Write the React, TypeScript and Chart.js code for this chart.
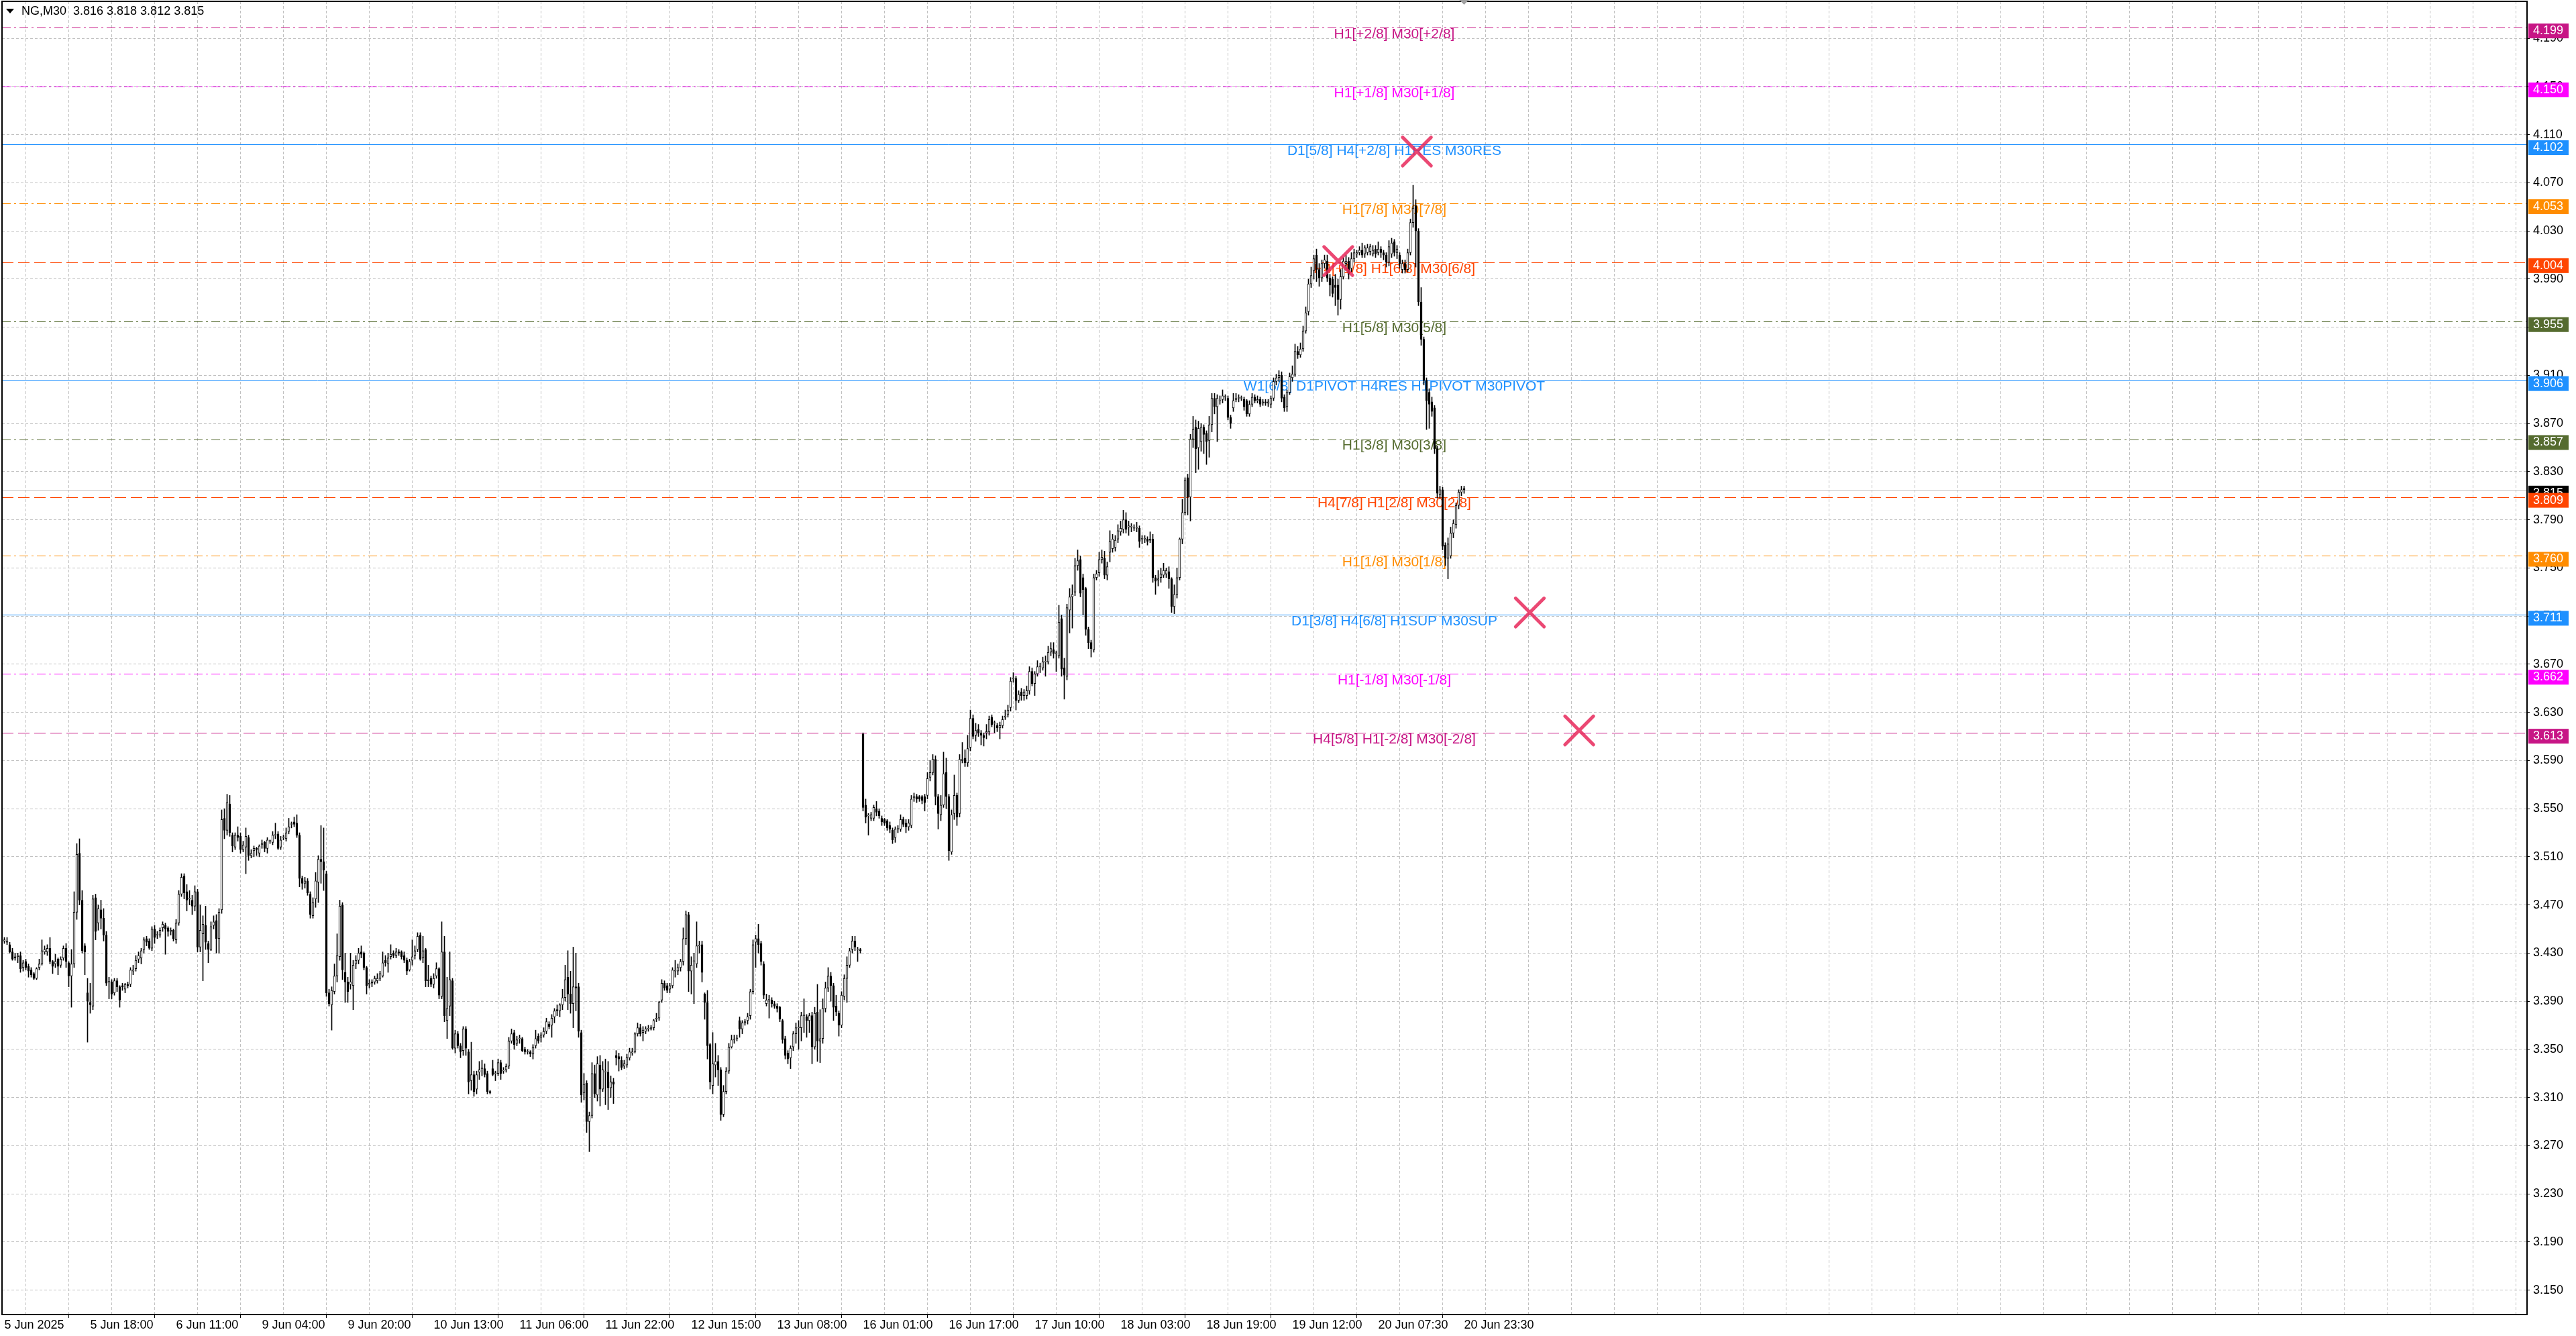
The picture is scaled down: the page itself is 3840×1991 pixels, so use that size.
import React, { useEffect, useRef } from 'react';
import { Chart, registerables } from 'chart.js';

Chart.register(...registerables);

// NG, M30 candles. Bar 0 is 5 Jun 2025 02:00, one bar per 30 minutes.
// Prices are in thousandths (3440 -> 3.440).
const OPEN = [
  3440, 3439, 3437, 3431, 3427, 3427, 3428, 3418, 3423, 3419, 3416, 3413, 3409, 3418, 3421, 3431,
  3431, 3434, 3423, 3421, 3425, 3420, 3426, 3434, 3422, 3411, 3421, 3464, 3513, 3474, 3436, 3397,
  3389, 3386, 3476, 3455, 3466, 3459, 3445, 3406, 3406, 3397, 3407, 3402, 3403, 3400, 3404, 3404,
  3415, 3417, 3425, 3426, 3433, 3442, 3440, 3434, 3450, 3445, 3445, 3451, 3453, 3451, 3448, 3449,
  3441, 3455, 3479, 3494, 3481, 3475, 3474, 3469, 3481, 3435, 3446, 3453, 3438, 3433, 3453, 3457,
  3442, 3466, 3542, 3532, 3554, 3528, 3518, 3528, 3527, 3516, 3518, 3526, 3511, 3515, 3517, 3513,
  3520, 3522, 3517, 3523, 3522, 3528, 3529, 3518, 3526, 3525, 3531, 3537, 3539, 3538, 3528, 3492,
  3488, 3490, 3479, 3461, 3475, 3489, 3508, 3506, 3496, 3397, 3387, 3398, 3411, 3427, 3470, 3414,
  3406, 3404, 3403, 3421, 3424, 3431, 3430, 3418, 3404, 3406, 3406, 3407, 3409, 3411, 3424, 3421,
  3427, 3430, 3428, 3431, 3431, 3428, 3424, 3416, 3424, 3428, 3433, 3445, 3426, 3433, 3407, 3409,
  3404, 3411, 3417, 3394, 3431, 3374, 3386, 3407, 3351, 3363, 3353, 3349, 3367, 3348, 3324, 3329,
  3317, 3331, 3334, 3334, 3330, 3315, 3334, 3330, 3330, 3339, 3332, 3333, 3336, 3357, 3364, 3355,
  3359, 3359, 3350, 3348, 3348, 3346, 3353, 3361, 3360, 3362, 3365, 3371, 3370, 3377, 3383, 3382,
  3387, 3393, 3410, 3396, 3388, 3402, 3402, 3364, 3314, 3322, 3290, 3295, 3330, 3312, 3337, 3317,
  3331, 3331, 3318, 3323, 3345, 3344, 3341, 3336, 3337, 3343, 3347, 3348, 3363, 3368, 3364, 3365,
  3367, 3367, 3368, 3375, 3376, 3391, 3405, 3403, 3400, 3403, 3415, 3415, 3418, 3423, 3442, 3462,
  3415, 3423, 3421, 3436, 3437, 3396, 3389, 3354, 3320, 3337, 3340, 3333, 3296, 3315, 3332, 3352,
  3358, 3359, 3374, 3367, 3372, 3374, 3378, 3398, 3439, 3442, 3438, 3421, 3388, 3391, 3391, 3388,
  3386, 3385, 3374, 3359, 3347, 3343, 3352, 3363, 3368, 3368, 3378, 3377, 3374, 3378, 3352, 3381,
  3357, 3359, 3384, 3401, 3411, 3403, 3386, 3380, 3370, 3394, 3409, 3420, 3433, 3440, 3433, 3433,
  3612, 3553, 3544, 3542, 3542, 3550, 3548, 3542, 3541, 3540, 3536, 3532, 3526, 3533, 3533, 3541,
  3538, 3535, 3536, 3559, 3560, 3560, 3560, 3560, 3561, 3576, 3580, 3591, 3560, 3545, 3553, 3580,
  3560, 3514, 3546, 3561, 3546, 3590, 3592, 3588, 3601, 3625, 3611, 3616, 3613, 3611, 3613, 3614,
  3626, 3621, 3619, 3617, 3619, 3626, 3628, 3634, 3658, 3658, 3640, 3647, 3644, 3644, 3648, 3664,
  3654, 3662, 3668, 3667, 3672, 3672, 3680, 3682, 3679, 3677, 3708, 3667, 3660, 3715, 3726, 3730,
  3752, 3757, 3742, 3733, 3699, 3688, 3682, 3742, 3746, 3757, 3758, 3744, 3763, 3766, 3767, 3774,
  3780, 3782, 3790, 3784, 3784, 3783, 3783, 3783, 3774, 3774, 3774, 3773, 3774, 3742, 3740, 3742,
  3744, 3745, 3747, 3741, 3718, 3728, 3742, 3774, 3796, 3825, 3809, 3857, 3867, 3850, 3855, 3867,
  3862, 3856, 3869, 3891, 3884, 3889, 3890, 3892, 3891, 3875, 3883, 3890, 3891, 3891, 3890, 3889,
  3878, 3886, 3892, 3889, 3890, 3887, 3888, 3887, 3886, 3891, 3905, 3908, 3910, 3892, 3884, 3896,
  3908, 3911, 3930, 3927, 3932, 3947, 3963, 3986, 3997, 4010, 3998, 3991, 4003, 4005, 3991, 3990,
  3985, 3985, 3973, 3992, 4003, 4005, 3999, 4007, 4011, 4012, 4014, 4011, 4012, 4013, 4011, 4015,
  4012, 4015, 4012, 4010, 4004, 4011, 4021, 4012, 4010, 3998, 4003, 3998, 4012, 4037, 4051, 4030,
  3971, 3940, 3906, 3896, 3888, 3883, 3849, 3811, 3815, 3769, 3758, 3760, 3779, 3786, 3802, 3813,
  3816,
];

const HIGH = [
  3443, 3443, 3439, 3434, 3430, 3430, 3431, 3424, 3425, 3421, 3418, 3414, 3418, 3425, 3441, 3436,
  3437, 3443, 3424, 3429, 3426, 3427, 3436, 3438, 3423, 3433, 3481, 3521, 3525, 3482, 3438, 3409,
  3405, 3478, 3479, 3470, 3474, 3467, 3448, 3410, 3408, 3409, 3409, 3403, 3405, 3405, 3406, 3418,
  3420, 3428, 3431, 3434, 3443, 3444, 3442, 3452, 3453, 3448, 3451, 3456, 3455, 3452, 3451, 3450,
  3458, 3482, 3496, 3496, 3487, 3482, 3478, 3486, 3483, 3470, 3461, 3469, 3440, 3456, 3461, 3462,
  3467, 3549, 3550, 3562, 3561, 3530, 3530, 3535, 3530, 3523, 3534, 3528, 3516, 3519, 3518, 3520,
  3524, 3523, 3526, 3524, 3531, 3538, 3531, 3527, 3528, 3534, 3542, 3539, 3543, 3545, 3530, 3494,
  3493, 3492, 3481, 3476, 3497, 3511, 3536, 3534, 3498, 3400, 3402, 3421, 3446, 3474, 3472, 3430,
  3410, 3430, 3424, 3428, 3434, 3436, 3431, 3419, 3408, 3408, 3411, 3413, 3415, 3431, 3428, 3430,
  3437, 3432, 3434, 3433, 3432, 3431, 3426, 3425, 3441, 3436, 3447, 3447, 3444, 3434, 3420, 3411,
  3413, 3422, 3418, 3456, 3444, 3410, 3431, 3409, 3366, 3365, 3355, 3369, 3369, 3350, 3356, 3332,
  3332, 3340, 3341, 3338, 3332, 3316, 3341, 3332, 3342, 3341, 3335, 3338, 3360, 3367, 3366, 3361,
  3362, 3360, 3352, 3350, 3349, 3354, 3366, 3363, 3364, 3368, 3376, 3373, 3379, 3384, 3387, 3388,
  3400, 3420, 3432, 3415, 3435, 3430, 3405, 3366, 3330, 3324, 3298, 3339, 3337, 3344, 3345, 3340,
  3342, 3340, 3328, 3326, 3349, 3347, 3344, 3341, 3346, 3351, 3351, 3364, 3372, 3371, 3369, 3369,
  3370, 3370, 3375, 3380, 3390, 3408, 3407, 3405, 3405, 3418, 3424, 3421, 3425, 3451, 3465, 3464,
  3427, 3430, 3456, 3440, 3440, 3397, 3399, 3355, 3364, 3355, 3345, 3335, 3320, 3335, 3355, 3362,
  3362, 3362, 3377, 3374, 3375, 3380, 3400, 3441, 3445, 3454, 3440, 3423, 3396, 3395, 3393, 3390,
  3388, 3386, 3375, 3361, 3349, 3353, 3365, 3372, 3374, 3381, 3392, 3379, 3380, 3381, 3385, 3404,
  3383, 3392, 3406, 3418, 3414, 3405, 3395, 3382, 3398, 3412, 3427, 3434, 3444, 3444, 3435, 3434,
  3613, 3558, 3546, 3547, 3553, 3556, 3550, 3544, 3542, 3541, 3539, 3534, 3535, 3536, 3545, 3543,
  3541, 3541, 3561, 3563, 3562, 3561, 3561, 3562, 3580, 3590, 3595, 3594, 3562, 3561, 3597, 3592,
  3562, 3549, 3578, 3563, 3595, 3605, 3599, 3611, 3632, 3628, 3621, 3620, 3615, 3613, 3620, 3627,
  3628, 3623, 3621, 3622, 3627, 3632, 3636, 3659, 3663, 3660, 3648, 3650, 3649, 3652, 3668, 3667,
  3664, 3673, 3671, 3676, 3677, 3685, 3688, 3688, 3681, 3719, 3711, 3675, 3720, 3733, 3736, 3758,
  3765, 3760, 3745, 3734, 3701, 3690, 3745, 3748, 3763, 3765, 3764, 3755, 3781, 3778, 3777, 3786,
  3789, 3798, 3796, 3789, 3787, 3786, 3788, 3785, 3777, 3777, 3776, 3780, 3778, 3744, 3748, 3750,
  3754, 3750, 3751, 3742, 3736, 3750, 3775, 3807, 3825, 3828, 3861, 3876, 3873, 3872, 3870, 3869,
  3864, 3876, 3895, 3895, 3894, 3893, 3898, 3894, 3893, 3877, 3895, 3895, 3894, 3893, 3892, 3890,
  3889, 3895, 3894, 3893, 3892, 3890, 3890, 3890, 3893, 3908, 3911, 3914, 3913, 3894, 3898, 3912,
  3918, 3936, 3934, 3937, 3951, 3967, 3990, 4000, 4010, 4015, 4003, 4006, 4010, 4010, 3994, 3992,
  3994, 3990, 3998, 4008, 4010, 4008, 4012, 4015, 4014, 4017, 4020, 4018, 4019, 4019, 4018, 4018,
  4021, 4017, 4014, 4012, 4022, 4024, 4023, 4018, 4012, 4006, 4006, 4015, 4040, 4068, 4056, 4032,
  3983, 3942, 3908, 3899, 3892, 3885, 3851, 3818, 3817, 3771, 3775, 3784, 3790, 3804, 3815, 3818,
  3818,
];

const LOW = [
  3438, 3437, 3430, 3424, 3424, 3422, 3414, 3415, 3416, 3410, 3410, 3408, 3408, 3416, 3420, 3429,
  3428, 3421, 3413, 3418, 3412, 3418, 3424, 3418, 3402, 3385, 3418, 3458, 3470, 3430, 3412, 3356,
  3380, 3383, 3441, 3449, 3450, 3440, 3403, 3392, 3392, 3395, 3398, 3385, 3399, 3397, 3401, 3402,
  3412, 3415, 3422, 3421, 3430, 3436, 3433, 3432, 3438, 3442, 3443, 3448, 3429, 3444, 3445, 3440,
  3438, 3453, 3477, 3475, 3465, 3470, 3462, 3465, 3431, 3431, 3407, 3433, 3422, 3432, 3450, 3430,
  3430, 3463, 3525, 3528, 3527, 3514, 3516, 3523, 3513, 3514, 3496, 3507, 3509, 3510, 3511, 3510,
  3517, 3514, 3513, 3521, 3520, 3525, 3516, 3516, 3524, 3523, 3529, 3534, 3535, 3526, 3485, 3483,
  3484, 3478, 3459, 3459, 3468, 3472, 3488, 3482, 3394, 3386, 3366, 3396, 3406, 3424, 3408, 3389,
  3389, 3400, 3383, 3417, 3421, 3426, 3416, 3396, 3401, 3402, 3404, 3405, 3407, 3410, 3419, 3414,
  3425, 3426, 3426, 3428, 3425, 3422, 3412, 3415, 3420, 3425, 3431, 3424, 3422, 3402, 3402, 3402,
  3401, 3409, 3392, 3392, 3373, 3359, 3378, 3350, 3347, 3351, 3343, 3345, 3345, 3313, 3316, 3311,
  3313, 3325, 3328, 3327, 3313, 3313, 3328, 3324, 3328, 3325, 3330, 3331, 3334, 3355, 3350, 3353,
  3355, 3348, 3346, 3346, 3344, 3342, 3351, 3355, 3356, 3360, 3363, 3367, 3360, 3372, 3378, 3377,
  3383, 3390, 3383, 3380, 3368, 3382, 3360, 3306, 3308, 3281, 3265, 3293, 3310, 3307, 3303, 3315,
  3304, 3300, 3310, 3305, 3337, 3332, 3333, 3334, 3335, 3341, 3345, 3347, 3361, 3361, 3357, 3363,
  3365, 3366, 3366, 3373, 3374, 3389, 3399, 3397, 3397, 3401, 3410, 3412, 3415, 3420, 3437, 3398,
  3396, 3388, 3418, 3430, 3406, 3375, 3342, 3317, 3313, 3327, 3320, 3291, 3294, 3313, 3330, 3351,
  3355, 3357, 3360, 3363, 3370, 3371, 3375, 3396, 3418, 3430, 3420, 3392, 3386, 3376, 3385, 3384,
  3381, 3373, 3355, 3342, 3338, 3334, 3349, 3355, 3350, 3357, 3364, 3360, 3364, 3338, 3350, 3340,
  3339, 3355, 3381, 3398, 3390, 3374, 3378, 3361, 3368, 3391, 3389, 3418, 3430, 3432, 3423, 3430,
  3548, 3538, 3528, 3540, 3540, 3544, 3542, 3536, 3536, 3532, 3530, 3521, 3522, 3530, 3531, 3535,
  3530, 3532, 3534, 3556, 3555, 3556, 3554, 3548, 3558, 3573, 3578, 3553, 3533, 3540, 3551, 3550,
  3507, 3512, 3541, 3536, 3543, 3588, 3585, 3585, 3598, 3608, 3606, 3610, 3603, 3602, 3608, 3611,
  3618, 3613, 3614, 3608, 3617, 3624, 3626, 3631, 3655, 3632, 3638, 3640, 3640, 3641, 3645, 3652,
  3644, 3660, 3663, 3665, 3660, 3670, 3677, 3675, 3664, 3675, 3660, 3641, 3657, 3696, 3700, 3727,
  3748, 3726, 3711, 3694, 3683, 3676, 3680, 3740, 3743, 3754, 3741, 3740, 3755, 3763, 3764, 3771,
  3777, 3779, 3779, 3777, 3780, 3781, 3780, 3767, 3770, 3771, 3769, 3771, 3738, 3728, 3735, 3738,
  3742, 3742, 3733, 3713, 3712, 3725, 3740, 3770, 3794, 3794, 3789, 3850, 3829, 3832, 3847, 3845,
  3836, 3842, 3863, 3878, 3855, 3886, 3887, 3889, 3873, 3866, 3880, 3888, 3888, 3889, 3881, 3876,
  3876, 3884, 3887, 3887, 3884, 3885, 3885, 3884, 3883, 3889, 3902, 3905, 3888, 3880, 3880, 3894,
  3905, 3909, 3924, 3925, 3930, 3945, 3960, 3983, 3990, 3988, 3984, 3988, 3999, 3988, 3976, 3975,
  3968, 3960, 3965, 3990, 3997, 3990, 3996, 4004, 4008, 4010, 4008, 4008, 4010, 4010, 4009, 4008,
  4010, 4008, 4006, 4000, 4001, 4008, 4009, 4007, 3999, 3995, 3995, 3996, 4010, 4033, 4000, 3968,
  3935, 3902, 3865, 3866, 3876, 3845, 3808, 3808, 3765, 3752, 3741, 3758, 3775, 3783, 3799, 3810,
  3812,
];

const CLOSE = [
  3441, 3440, 3431, 3425, 3426, 3428, 3417, 3422, 3418, 3415, 3412, 3409, 3417, 3421, 3432, 3433,
  3434, 3423, 3419, 3423, 3419, 3425, 3434, 3423, 3411, 3421, 3464, 3512, 3474, 3432, 3431, 3390,
  3387, 3475, 3448, 3467, 3459, 3445, 3405, 3406, 3396, 3407, 3402, 3391, 3402, 3404, 3403, 3416,
  3416, 3424, 3428, 3432, 3441, 3439, 3434, 3450, 3443, 3445, 3449, 3454, 3450, 3448, 3449, 3442,
  3455, 3479, 3493, 3480, 3474, 3475, 3469, 3481, 3435, 3449, 3454, 3439, 3433, 3452, 3456, 3442,
  3464, 3541, 3532, 3555, 3530, 3519, 3528, 3526, 3516, 3520, 3527, 3511, 3513, 3517, 3516, 3519,
  3521, 3517, 3524, 3523, 3528, 3528, 3517, 3524, 3526, 3530, 3535, 3537, 3537, 3528, 3492, 3488,
  3490, 3480, 3462, 3472, 3490, 3508, 3506, 3499, 3397, 3388, 3399, 3411, 3428, 3469, 3416, 3406,
  3398, 3406, 3420, 3424, 3430, 3429, 3418, 3403, 3405, 3405, 3409, 3409, 3413, 3422, 3422, 3426,
  3429, 3428, 3431, 3430, 3427, 3424, 3415, 3423, 3427, 3432, 3444, 3425, 3432, 3407, 3408, 3404,
  3409, 3417, 3395, 3431, 3378, 3384, 3408, 3351, 3363, 3353, 3348, 3367, 3351, 3323, 3329, 3315,
  3329, 3333, 3334, 3329, 3315, 3314, 3329, 3330, 3339, 3330, 3332, 3336, 3357, 3363, 3354, 3358,
  3359, 3349, 3348, 3348, 3346, 3352, 3359, 3357, 3362, 3365, 3373, 3369, 3376, 3382, 3382, 3387,
  3393, 3408, 3396, 3388, 3402, 3401, 3365, 3312, 3321, 3290, 3295, 3330, 3313, 3338, 3317, 3333,
  3331, 3318, 3323, 3321, 3343, 3342, 3335, 3338, 3343, 3348, 3348, 3363, 3368, 3363, 3366, 3367,
  3367, 3368, 3374, 3376, 3389, 3405, 3401, 3399, 3403, 3416, 3415, 3418, 3423, 3442, 3462, 3415,
  3420, 3423, 3436, 3436, 3414, 3389, 3353, 3323, 3338, 3340, 3333, 3296, 3315, 3332, 3352, 3358,
  3358, 3359, 3367, 3372, 3373, 3377, 3398, 3437, 3442, 3437, 3423, 3395, 3391, 3391, 3388, 3386,
  3384, 3375, 3358, 3345, 3342, 3351, 3363, 3368, 3368, 3378, 3378, 3374, 3378, 3352, 3380, 3357,
  3359, 3384, 3401, 3411, 3403, 3385, 3381, 3370, 3395, 3409, 3420, 3432, 3440, 3435, 3433, 3432,
  3551, 3543, 3544, 3545, 3551, 3547, 3544, 3539, 3538, 3534, 3533, 3524, 3533, 3533, 3541, 3537,
  3535, 3538, 3558, 3560, 3558, 3558, 3557, 3555, 3575, 3580, 3591, 3560, 3546, 3553, 3579, 3560,
  3515, 3545, 3561, 3543, 3591, 3591, 3588, 3600, 3625, 3610, 3615, 3613, 3611, 3609, 3614, 3624,
  3620, 3621, 3617, 3619, 3624, 3627, 3632, 3656, 3658, 3640, 3645, 3644, 3647, 3648, 3664, 3654,
  3662, 3668, 3668, 3672, 3672, 3680, 3683, 3679, 3679, 3705, 3666, 3661, 3717, 3726, 3728, 3752,
  3756, 3729, 3732, 3699, 3688, 3683, 3742, 3745, 3757, 3759, 3744, 3751, 3772, 3774, 3773, 3781,
  3783, 3790, 3782, 3785, 3784, 3783, 3783, 3772, 3774, 3774, 3772, 3774, 3742, 3739, 3741, 3745,
  3748, 3748, 3741, 3718, 3728, 3742, 3774, 3796, 3823, 3809, 3857, 3865, 3849, 3866, 3867, 3861,
  3855, 3869, 3891, 3884, 3891, 3889, 3893, 3892, 3875, 3870, 3889, 3891, 3891, 3891, 3884, 3878,
  3886, 3892, 3889, 3890, 3886, 3888, 3887, 3888, 3891, 3905, 3908, 3910, 3891, 3883, 3896, 3909,
  3911, 3930, 3927, 3932, 3947, 3962, 3986, 3993, 4007, 3998, 3991, 4003, 4006, 3991, 3985, 3978,
  3983, 3973, 3992, 4005, 4005, 3994, 4007, 4012, 4012, 4014, 4010, 4016, 4016, 4017, 4014, 4011,
  4015, 4012, 4010, 4004, 4017, 4020, 4012, 4015, 4003, 4003, 3998, 4012, 4037, 4049, 4030, 3971,
  3940, 3906, 3889, 3886, 3880, 3849, 3812, 3815, 3768, 3758, 3770, 3779, 3787, 3802, 3813, 3815,
  3815,
];

// time axis: one label every 32 bars, dotted grid every 16 bars
const TIME_LABELS = [
  '5 Jun 2025', '5 Jun 18:00', '6 Jun 11:00', '9 Jun 04:00', '9 Jun 20:00', '10 Jun 13:00',
  '11 Jun 06:00', '11 Jun 22:00', '12 Jun 15:00', '13 Jun 08:00', '16 Jun 01:00', '16 Jun 17:00',
  '17 Jun 10:00', '18 Jun 03:00', '18 Jun 19:00', '19 Jun 12:00', '20 Jun 07:30', '20 Jun 23:30',
];
const LABEL_EVERY = 32;
const GRID_EVERY = 16;

const PRICE_TICKS = [
  3.15, 3.19, 3.23, 3.27, 3.31, 3.35, 3.39, 3.43, 3.47, 3.51, 3.55, 3.59, 3.63, 3.67,
  3.71, 3.75, 3.79, 3.83, 3.87, 3.91, 3.95, 3.99, 4.03, 4.07, 4.11, 4.15, 4.19,
];

// Murrey-math style levels drawn by the indicator
const LEVEL_PRICES = [4.199, 4.15, 4.102, 4.053, 4.004, 3.955, 3.906, 3.857, 3.809, 3.76, 3.711, 3.662, 3.613];
const LEVEL_NAMES = [
  'H1[+2/8] M30[+2/8]',
  'H1[+1/8] M30[+1/8]',
  'D1[5/8] H4[+2/8] H1RES M30RES',
  'H1[7/8] M30[7/8]',
  'H4[+1/8] H1[6/8] M30[6/8]',
  'H1[5/8] M30[5/8]',
  'W1[6/8] D1PIVOT H4RES H1PIVOT M30PIVOT',
  'H1[3/8] M30[3/8]',
  'H4[7/8] H1[2/8] M30[2/8]',
  'H1[1/8] M30[1/8]',
  'D1[3/8] H4[6/8] H1SUP M30SUP',
  'H1[-1/8] M30[-1/8]',
  'H4[5/8] H1[-2/8] M30[-2/8]',
];

// red crosses placed by the indicator (bar position, price)
const MARKER_BARS = [526.4, 497.1, 568.5, 586.9];
const MARKER_PRICES = [4.096, 4.005, 3.713, 3.615];

const BID = CLOSE[CLOSE.length - 1] / 1000;

// ---- styling ----
const FONT = '"Liberation Sans", Arial, sans-serif';
const GRID = '#c0c0c0';
const VIOLET = '#C71585';
const MAGENTA = '#FF00FF';
const BLUE = '#1E90FF';
const ORANGE = '#FF8C00';
const RED_ORANGE = '#FF4500';
const OLIVE = '#556B2F';
const DASH = [17, 7];
const DASH_DOT = [13, 5, 3, 5];
const SOLID: number[] = [];
const LEVEL_STYLES = [
  { color: VIOLET, dash: DASH_DOT },
  { color: MAGENTA, dash: DASH_DOT },
  { color: BLUE, dash: SOLID },
  { color: ORANGE, dash: DASH_DOT },
  { color: RED_ORANGE, dash: DASH },
  { color: OLIVE, dash: DASH_DOT },
  { color: BLUE, dash: SOLID },
  { color: OLIVE, dash: DASH_DOT },
  { color: RED_ORANGE, dash: DASH },
  { color: ORANGE, dash: DASH_DOT },
  { color: BLUE, dash: SOLID },
  { color: MAGENTA, dash: DASH_DOT },
  { color: VIOLET, dash: DASH },
];
const LEVEL_TEXT_BAR = 518;

const fmt = (v: number) => (v / 1000).toFixed(3);
const last = OPEN.length - 1;
const HEADER = `NG,M30  ${fmt(OPEN[last])} ${fmt(HIGH[last])} ${fmt(LOW[last])} ${fmt(CLOSE[last])}`;

const mt4Overlay = {
  id: 'mt4Overlay',
  beforeDatasetsDraw(chart: any) {
    const { ctx, chartArea: a, scales } = chart;
    const x = scales.x;
    const y = scales.y;
    ctx.save();
    ctx.beginPath();
    ctx.rect(a.left, a.top, a.right - a.left, a.bottom - a.top);
    ctx.clip();

    // bid line
    const by = Math.round(y.getPixelForValue(BID)) + 0.5;
    ctx.strokeStyle = '#c0c0c0';
    ctx.lineWidth = 1;
    ctx.setLineDash([]);
    ctx.beginPath();
    ctx.moveTo(a.left, by);
    ctx.lineTo(a.right, by);
    ctx.stroke();

    LEVEL_PRICES.forEach((p, i) => {
      const st = LEVEL_STYLES[i];
      const py = Math.round(y.getPixelForValue(p)) + 0.5;
      ctx.strokeStyle = st.color;
      ctx.setLineDash(st.dash);
      ctx.beginPath();
      ctx.moveTo(a.left, py);
      ctx.lineTo(a.right, py);
      ctx.stroke();
    });

    ctx.setLineDash([]);
    ctx.font = `21px ${FONT}`;
    ctx.textAlign = 'center';
    ctx.textBaseline = 'middle';
    const lx = x.getPixelForValue(LEVEL_TEXT_BAR);
    LEVEL_PRICES.forEach((p, i) => {
      ctx.fillStyle = LEVEL_STYLES[i].color;
      ctx.fillText(LEVEL_NAMES[i], lx, y.getPixelForValue(p) + 10);
    });
    ctx.restore();
  },
  beforeDatasetDraw(chart: any, args: any) {
    if (args.index === 2) chart.ctx.lineCap = 'round';
  },
  afterDatasetDraw(chart: any, args: any) {
    if (args.index === 2) chart.ctx.lineCap = 'butt';
  },
  afterDraw(chart: any) {
    const { ctx, chartArea: a, scales } = chart;
    const x = scales.x;
    const y = scales.y;
    ctx.save();

    // frame
    ctx.strokeStyle = '#000';
    ctx.lineWidth = 2;
    ctx.setLineDash([]);
    ctx.strokeRect(a.left, a.top, a.right - a.left, a.bottom - a.top);

    // price boxes on the axis
    ctx.font = `18px ${FONT}`;
    ctx.textAlign = 'left';
    ctx.textBaseline = 'middle';
    const box = (price: number, color: string) => {
      const py = y.getPixelForValue(price);
      ctx.fillStyle = color;
      ctx.fillRect(a.right + 2, py - 6, 60, 22);
      ctx.fillStyle = '#fff';
      ctx.fillText(price.toFixed(3), a.right + 9, py + 5);
    };
    box(BID, '#000');
    LEVEL_PRICES.forEach((p, i) => box(p, LEVEL_STYLES[i].color));

    // header
    ctx.fillStyle = '#000';
    ctx.beginPath();
    ctx.moveTo(9, 13);
    ctx.lineTo(21, 13);
    ctx.lineTo(15, 20);
    ctx.closePath();
    ctx.fill();
    ctx.fillText(HEADER, 32, 17);

    // chart shift marker
    const sx = x.getPixelForValue(last);
    ctx.fillStyle = '#a0a0a0';
    ctx.beginPath();
    ctx.moveTo(sx - 7, 0);
    ctx.lineTo(sx + 7, 0);
    ctx.lineTo(sx, 7);
    ctx.closePath();
    ctx.fill();
    ctx.restore();
  },
};

const App: React.FC = () => {
  const canvasRef = useRef<HTMLCanvasElement>(null);

  useEffect(() => {
    if (!canvasRef.current) return;
    const idx = OPEN.map((_, i) => i);
    const chart = new Chart(canvasRef.current, {
      type: 'bar',
      data: {
        datasets: [
          {
            type: 'bar',
            label: 'body',
            data: idx.map((i) => ({ x: i, y: [OPEN[i] / 1000, CLOSE[i] / 1000] })) as any,
            barThickness: 3,
            minBarLength: 1,
            grouped: false,
            borderWidth: 1,
            borderColor: '#000',
            borderSkipped: false,
            backgroundColor: (c: any) => (CLOSE[c.dataIndex] >= OPEN[c.dataIndex] ? '#fff' : '#000'),
            order: 1,
          },
          {
            type: 'bar',
            label: 'wick',
            data: idx.map((i) => ({ x: i, y: [LOW[i] / 1000, HIGH[i] / 1000] })) as any,
            barThickness: 1,
            grouped: false,
            borderWidth: 0,
            backgroundColor: '#000',
            order: 2,
          },
          {
            type: 'scatter',
            label: 'marks',
            data: MARKER_BARS.map((b, i) => ({ x: b, y: MARKER_PRICES[i] })),
            pointStyle: 'crossRot',
            pointRadius: 30,
            pointBorderWidth: 5,
            pointBorderColor: 'rgba(232, 40, 90, 0.85)',
            pointBackgroundColor: 'rgba(0,0,0,0)',
            showLine: false,
            order: 0,
          } as any,
        ],
      },
      options: {
        animation: false,
        responsive: false,
        devicePixelRatio: 1,
        events: [],
        layout: { autoPadding: false, padding: { left: 3, top: 2, right: 0, bottom: 0 } },
        plugins: { legend: { display: false }, tooltip: { enabled: false } },
        scales: {
          x: {
            type: 'linear',
            min: -0.875,
            max: 940.125,
            offset: false,
            bounds: 'data',
            afterBuildTicks: (s: any) => {
              const t = [];
              for (let v = 0; v <= s.max; v += GRID_EVERY) t.push({ value: v });
              s.ticks = t;
            },
            afterFit: (s: any) => {
              s.height = 32;
              s.paddingLeft = 0;
              s.paddingRight = 0;
            },
            grid: {
              color: GRID,
              lineWidth: 1,
              tickLength: 5,
              tickColor: (c: any) =>
                c.tick && c.tick.value % LABEL_EVERY === 0 && c.tick.value / LABEL_EVERY < TIME_LABELS.length
                  ? '#000'
                  : 'rgba(0,0,0,0)',
            },
            border: { display: false, dash: [4, 3] },
            ticks: {
              autoSkip: false,
              maxRotation: 0,
              minRotation: 0,
              align: 'start',
              padding: 0,
              color: '#000',
              font: { family: FONT, size: 18 },
              callback: (v: any) => {
                const n = Number(v);
                if (n % LABEL_EVERY !== 0) return '';
                const k = n / LABEL_EVERY;
                return k < TIME_LABELS.length ? TIME_LABELS[k] : '';
              },
            },
          },
          y: {
            type: 'linear',
            position: 'right',
            min: 3.1297,
            max: 4.2208,
            bounds: 'data',
            afterBuildTicks: (s: any) => {
              s.ticks = PRICE_TICKS.map((v) => ({ value: v }));
            },
            afterFit: (s: any) => {
              s.width = 73;
              s.paddingTop = 0;
              s.paddingBottom = 0;
            },
            grid: { color: GRID, lineWidth: 1, tickLength: 4, tickColor: '#000' },
            border: { display: false, dash: [4, 3] },
            ticks: {
              autoSkip: false,
              padding: 5,
              color: '#000',
              font: { family: FONT, size: 18 },
              callback: (v: any) => Number(v).toFixed(3),
            },
          },
        },
      } as any,
      plugins: [mt4Overlay],
    });
    return () => chart.destroy();
  }, []);

  return (
    <div style={{ position: 'absolute', left: 0, top: 0, width: 3840, height: 1991, background: '#fff' }}>
      <canvas ref={canvasRef} width={3840} height={1991} style={{ display: 'block', width: 3840, height: 1991 }} />
    </div>
  );
};

export default App;
